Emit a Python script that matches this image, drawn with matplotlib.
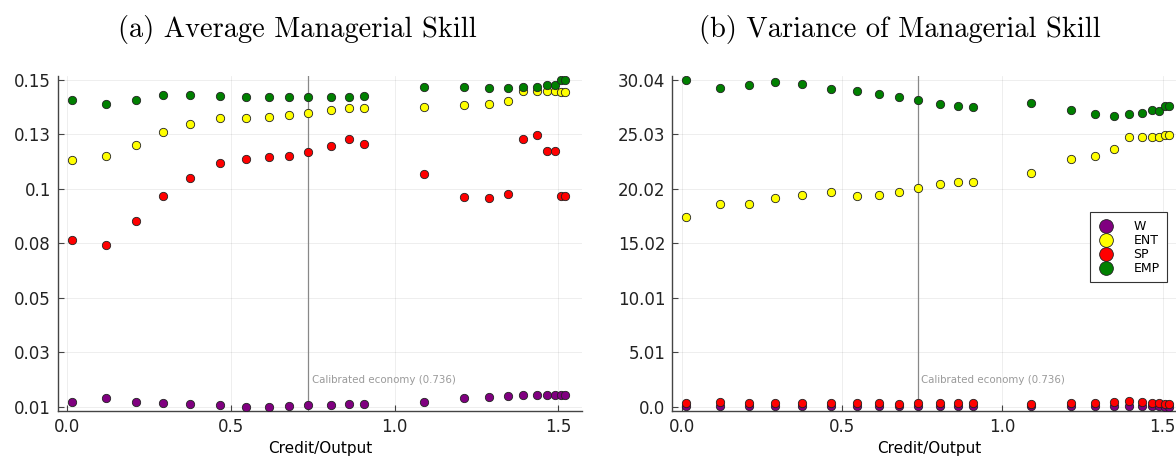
import numpy as np
import matplotlib
matplotlib.use("Agg")
import matplotlib.pyplot as plt

# credit/output grid shared by both panels
credit = [0.015, 0.119, 0.209, 0.292, 0.375, 0.466, 0.546, 0.616, 0.678, 0.736, 0.806, 0.862,
          0.908, 1.090, 1.213, 1.288, 1.347, 1.394, 1.436, 1.467, 1.489, 1.508, 1.521]

# (a) average managerial skill by occupation
avg_w = [0.0122, 0.0141, 0.0125, 0.0117, 0.0114, 0.0110, 0.0103, 0.0103, 0.0105, 0.0110, 0.0112, 0.0114,
         0.0114, 0.0125, 0.0142, 0.0143, 0.0148, 0.0152, 0.0152, 0.0152, 0.0152, 0.0155, 0.0155]
avg_ent = [0.1159, 0.1175, 0.1221, 0.1279, 0.1313, 0.1337, 0.1339, 0.1343, 0.1350, 0.1359, 0.1370, 0.1380,
           0.1379, 0.1384, 0.1393, 0.1397, 0.1412, 0.1453, 0.1453, 0.1453, 0.1453, 0.1449, 0.1449]
avg_sp = [0.0814, 0.0796, 0.0895, 0.1005, 0.1081, 0.1146, 0.1162, 0.1169, 0.1176, 0.1193, 0.1219, 0.1248,
          0.1226, 0.1098, 0.1001, 0.0994, 0.1011, 0.1246, 0.1263, 0.1196, 0.1196, 0.1004, 0.1004]
avg_emp = [0.1413, 0.1396, 0.1414, 0.1436, 0.1437, 0.1432, 0.1429, 0.1429, 0.1429, 0.1427, 0.1427, 0.1427,
           0.1432, 0.1470, 0.1470, 0.1466, 0.1466, 0.1471, 0.1471, 0.1480, 0.1480, 0.1500, 0.1500]

# (b) variance of managerial skill by occupation
var_w = [0.04, 0.04, 0.04, 0.04, 0.04, 0.04, 0.03, 0.03, 0.03, 0.03, 0.03, 0.03,
         0.03, 0.03, 0.04, 0.04, 0.04, 0.05, 0.05, 0.04, 0.04, 0.00, 0.00]
var_ent = [17.45, 18.68, 18.64, 19.17, 19.50, 19.75, 19.38, 19.50, 19.72, 20.15, 20.49, 20.70,
           20.70, 21.50, 22.82, 23.01, 23.65, 24.82, 24.79, 24.76, 24.79, 25.00, 25.00]
var_sp = [0.31, 0.40, 0.34, 0.37, 0.34, 0.31, 0.31, 0.31, 0.25, 0.34, 0.31, 0.31,
          0.31, 0.25, 0.34, 0.34, 0.40, 0.52, 0.43, 0.37, 0.34, 0.28, 0.28]
var_emp = [30.04, 29.33, 29.58, 29.89, 29.67, 29.24, 29.00, 28.72, 28.47, 28.17, 27.83, 27.61,
           27.58, 27.92, 27.24, 26.94, 26.75, 26.88, 27.03, 27.27, 27.18, 27.64, 27.64]

avg_ticklabels = ["0.01", "0.03", "0.05", "0.08", "0.1", "0.13", "0.15"]
var_ticklabels = ["0.0", "5.01", "10.01", "15.02", "20.02", "25.03", "30.04"]
calibrated = 0.736

groups = ["W", "ENT", "SP", "EMP"]
colors = ["#800080", "#ffff00", "#ff0000", "#008000"]

plt.rcParams["font.family"] = "DejaVu Sans"

fig = plt.figure(figsize=(11.76, 4.59), dpi=100)
ax1 = fig.add_axes([0.0493, 0.1046, 0.4456, 0.7298])
ax2 = fig.add_axes([0.5717, 0.1046, 0.4368, 0.7298])


def style_panel(ax, series, lo, hi, ticklabels, note_y):
    for ys, name, c in zip(series, groups, colors):
        ax.scatter(credit, ys, s=36, color=c, edgecolors="#222222", linewidths=0.6,
                   label=name, zorder=3)
    ax.axvline(calibrated, color="#888888", lw=0.9, zorder=2)
    ax.text(calibrated + 0.012, note_y, f"Calibrated economy ({calibrated})", fontsize=7.4,
            color="#9a9a9a", va="center", ha="left")

    ticks = np.linspace(lo, hi, 7)
    span = hi - lo
    ax.set_ylim(lo - 0.01316 * span, hi + 0.01224 * span)
    ax.set_yticks(ticks, ticklabels)
    ax.set_xlim(-0.029, 1.573)
    ax.set_xticks([0.0, 0.5, 1.0, 1.5], ["0.0", "0.5", "1.0", "1.5"])
    ax.set_xlabel("Credit/Output", fontsize=11, labelpad=4)

    ax.grid(True, color="#000000", alpha=0.08, lw=0.6)
    ax.set_axisbelow(True)
    for side in ("top", "right"):
        ax.spines[side].set_visible(False)
    for side in ("left", "bottom"):
        ax.spines[side].set_color("#444444")
        ax.spines[side].set_linewidth(1.0)
    ax.tick_params(direction="in", length=4, width=0.8, color="#444444",
                   labelsize=12, labelcolor="#222222", pad=5)


style_panel(ax1, [avg_w, avg_ent, avg_sp, avg_emp], 0.0103, 0.15, avg_ticklabels, 0.0217)
style_panel(ax2, [var_w, var_ent, var_sp, var_emp], 0.0, 30.04, var_ticklabels, 2.46)

leg = ax2.legend(loc="upper right", bbox_to_anchor=(0.963, 0.594), fontsize=9,
                 markerscale=1.65, scatterpoints=1, labelspacing=0.08, handletextpad=1.4,
                 borderpad=0.6, handlelength=1.5, borderaxespad=0, fancybox=False,
                 framealpha=1, edgecolor="#333333")
leg.get_frame().set_linewidth(0.8)

fig.text(297 / 1176, 1 - 30 / 459, "(a) Average Managerial Skill", family="cmr10",
         fontsize=20.5, ha="center", va="center")
fig.text(900 / 1176, 1 - 30 / 459, "(b) Variance of Managerial Skill", family="cmr10",
         fontsize=20.5, ha="center", va="center")

fig.savefig("out.png", dpi=100)
